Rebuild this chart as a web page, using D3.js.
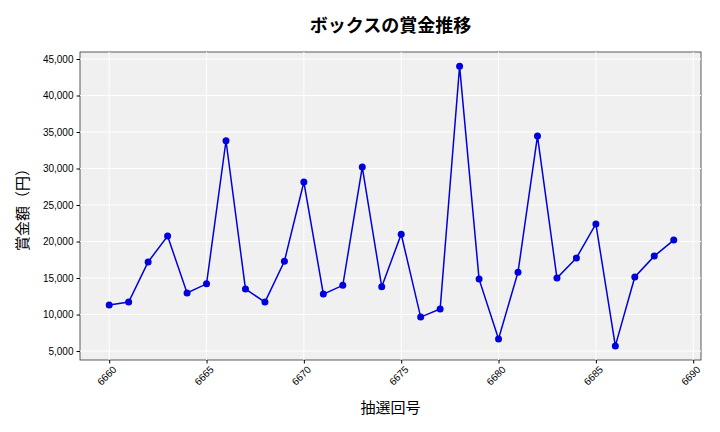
<!DOCTYPE html>
<html><head><meta charset="utf-8">
<script src="https://cdn.jsdelivr.net/npm/d3@7"></script>
<style>body{margin:0;background:#fff;font-family:"Noto Sans CJK JP","Noto Sans",sans-serif}</style>
</head><body><div id="chart"></div>
<script>
const draws = d3.range(6660, 6690);
const prizes = [11300,11700,17200,20750,12950,14200,33800,13500,11700,17300,
  28150,12800,14000,30200,13800,21000,9650,10750,44000,14850,
  6650,15800,34450,15000,17750,22400,5700,15150,18000,20200];
const xTicks = [6660,6665,6670,6675,6680,6685,6690];
const yTicks = d3.range(5000, 45001, 5000);

const w = 720, h = 432;
const m = {l: 80, r: 19, t: 52, b: 72};
const svg = d3.select("#chart").append("svg").attr("width", w).attr("height", h);

const x = d3.scaleLinear().domain([6658.5, 6690.4]).range([m.l, w - m.r]);
const y = d3.scaleLinear().domain([3770, 45960]).range([h - m.b, m.t]);

svg.append("rect").attr("x", m.l).attr("y", m.t)
  .attr("width", w - m.r - m.l).attr("height", h - m.b - m.t)
  .attr("fill", "#f0f0f0").attr("stroke", "#333").attr("stroke-width", 0.8);

svg.append("g").selectAll("line").data(xTicks).enter().append("line")
  .attr("x1", d => x(d)).attr("x2", d => x(d)).attr("y1", m.t).attr("y2", h - m.b)
  .attr("stroke", "#fff").attr("stroke-width", 1);
svg.append("g").selectAll("line").data(yTicks).enter().append("line")
  .attr("y1", d => y(d)).attr("y2", d => y(d)).attr("x1", m.l).attr("x2", w - m.r)
  .attr("stroke", "#fff").attr("stroke-width", 1);

const xa = svg.append("g").attr("transform", `translate(0,${h - m.b})`)
  .call(d3.axisBottom(x).tickValues(xTicks).tickFormat(d3.format("d")).tickSize(3.5));
xa.selectAll("text").attr("transform", "rotate(-45)").attr("text-anchor", "end")
  .attr("dx", "-0.2em").attr("dy", "0.6em").style("font-size", "10px");
const ya = svg.append("g").attr("transform", `translate(${m.l},0)`)
  .call(d3.axisLeft(y).tickValues(yTicks).tickFormat(d3.format(",")).tickSize(3.5));
ya.selectAll("text").style("font-size", "10px");
svg.selectAll(".domain").remove();

const line = d3.line().x((d, i) => x(draws[i])).y(d => y(d));
svg.append("path").datum(prizes).attr("d", line)
  .attr("fill", "none").attr("stroke", "#0000dd").attr("stroke-width", 1.5);
svg.append("g").selectAll("circle").data(prizes).enter().append("circle")
  .attr("cx", (d, i) => x(draws[i])).attr("cy", d => y(d)).attr("r", 3.5).attr("fill", "#0000dd");

svg.append("text").attr("x", (m.l + w - m.r) / 2).attr("y", 32).attr("text-anchor", "middle")
  .style("font-size", "18px").style("font-weight", "bold").text("ボックスの賞金推移");
svg.append("text").attr("x", (m.l + w - m.r) / 2).attr("y", 413).attr("text-anchor", "middle")
  .style("font-size", "15px").text("抽選回号");
svg.append("text").attr("transform", `translate(28,${(m.t + h - m.b) / 2}) rotate(-90)`)
  .attr("text-anchor", "middle").style("font-size", "15px").text("賞金額（円）");
</script></body></html>
